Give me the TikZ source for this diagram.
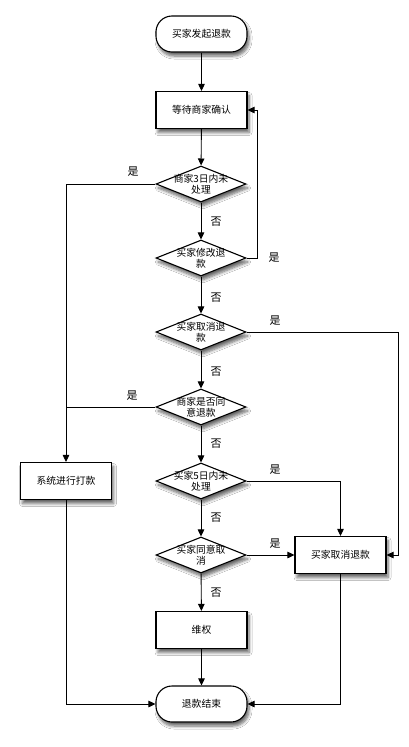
\documentclass[tikz,border=0pt]{standalone}
\usepackage{fontspec}
\newfontfamily\cjk{Noto Sans CJK SC}
\usetikzlibrary{shapes.geometric,arrows.meta,shadows.blur}
\begin{document}
\begin{tikzpicture}[x=1pt,y=-1pt,
  base/.style={draw=black, line width=1.1pt, fill=white,
    font=\cjk\fontsize{9.8}{11}\selectfont, align=center,
    blur shadow={shadow xshift=2pt,shadow yshift=-4pt,shadow blur steps=6,shadow blur radius=3pt,shadow opacity=60}},
  procbox/.style={base, rectangle, minimum width=91pt, minimum height=37pt, inner sep=0pt},
  termbox/.style={base, rectangle, rounded corners=16pt, minimum width=91pt, minimum height=36pt, inner sep=0pt},
  decision/.style={base, diamond, minimum width=90pt, minimum height=36pt, inner sep=0pt},
  dtext/.style={font=\cjk\fontsize{9.8}{11}\selectfont, align=center, inner sep=0pt},
  lbl/.style={font=\cjk\fontsize{11}{12}\selectfont, inner sep=0pt},
  arr/.style={line width=0.9pt, -{Triangle[length=7pt,width=6.5pt]}},
  plain/.style={line width=0.9pt}
]
\useasboundingbox[fill=white] (0,0) rectangle (409,747);

\node[termbox] (start) at (201.5,34) {买家发起退款};
\node[procbox] (wait) at (201.5,110) {等待商家确认};
\node[decision, label={[dtext]center:商家3日内未\\处理}] (d1) at (201,184) {};
\node[decision, label={[dtext]center:买家修改退\\款}] (d2) at (201,258) {};
\node[decision, label={[dtext]center:买家取消退\\款}] (d3) at (201,332) {};
\node[decision, label={[dtext]center:商家是否同\\意退款}] (d4) at (201,407) {};
\node[decision, label={[dtext]center:买家5日内未\\处理}] (d5) at (201,481) {};
\node[decision, label={[dtext]center:买家同意取\\消}] (d6) at (201,555) {};
\node[procbox] (pay) at (66,481) {系统进行打款};
\node[procbox] (cancel) at (340.5,555) {买家取消退款};
\node[procbox] (weiquan) at (201.5,630) {维权};
\node[termbox] (endn) at (201.5,704) {退款结束};

\coordinate (loopup) at (257,258);
\coordinate (farright) at (398,332);

\draw[arr] (start) -- (wait);
\draw[arr] (wait) -- (d1);
\draw[arr] (d1) -- (d2);
\draw[arr] (d2.east) -- (loopup) |- (wait.east);
\draw[arr] (d1.west) -| (pay.north);
\draw[arr] (d2) -- (d3);
\draw[arr] (d3.east) -- (farright) |- (cancel.east);
\draw[arr] (d3) -- (d4);
\draw[plain] (d4.west) -- (d4.west -| pay.north);
\draw[arr] (d4) -- (d5);
\draw[arr] (d5.east) -| (cancel.north);
\draw[arr] (d5) -- (d6);
\draw[arr] (d6) -- (cancel);
\draw[arr] (d6) -- (weiquan);
\draw[arr] (weiquan) -- (endn);
\draw[arr] (pay.south) |- (endn.west);
\draw[arr] (cancel.south) |- (endn.east);

\node[lbl] (y1) at (133,172) {是};
\node[lbl] (n1) at (216,222) {否};
\node[lbl] (y2) at (274,258) {是};
\node[lbl] (n2) at (216,298) {否};
\node[lbl] (y3) at (275,321) {是};
\node[lbl] (n3) at (216,372) {否};
\node[lbl] (y4) at (132,396) {是};
\node[lbl] (n4) at (216,444) {否};
\node[lbl] (y5) at (275,470) {是};
\node[lbl] (n5) at (216,518) {否};
\node[lbl] (y6) at (275,544) {是};
\node[lbl] (n6) at (216,593) {否};
\end{tikzpicture}
\end{document}
